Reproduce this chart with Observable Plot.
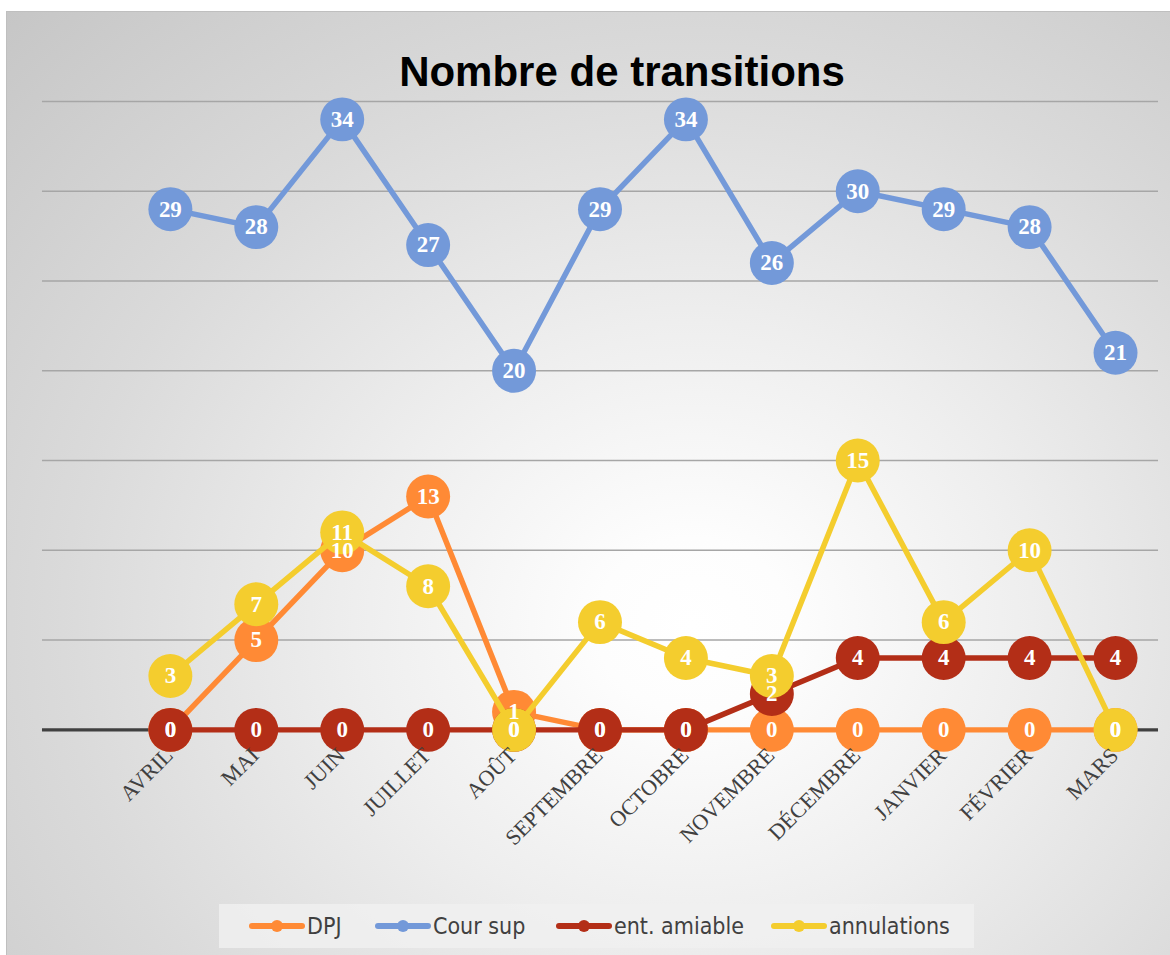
<!DOCTYPE html>
<html>
<head>
<meta charset="utf-8">
<script src="https://cdn.jsdelivr.net/npm/d3@7"></script>
<script src="https://cdn.jsdelivr.net/npm/@observablehq/plot@0.6"></script>
<style>
  html, body { margin: 0; padding: 0; background: #ffffff; }
  #chart {
    position: absolute; left: 6px; top: 11px; width: 1164px; height: 944px;
    box-sizing: border-box; border-left: 1px solid #bfbfbf; border-top: 1px solid #bfbfbf;
    background: radial-gradient(ellipse farthest-corner at 59% 65%, #ffffff 0%, #fdfdfd 10%, #eeeeee 35%, #dadada 65%, #c6c6c6 100%);
    overflow: hidden;
  }
  #title {
    position: absolute; top: 39px; left: 615px; transform: translateX(-50%);
    font-family: "Liberation Sans", Arial, sans-serif; font-weight: bold; font-size: 42px;
    line-height: 42px; color: #000; white-space: nowrap;
  }
  #plot { position: absolute; left: 0; top: 0; }
  #legend {
    position: absolute; left: 212px; top: 892px; width: 755px; height: 44px;
    background: rgba(240,240,240,0.85);
  }
  .lg-sym { position: absolute; top: 16px; }
  .lg-txt {
    position: absolute; top: 0; line-height: 44px; height: 44px;
    font-family: "DejaVu Sans Condensed", "Liberation Sans Narrow", sans-serif; font-stretch: condensed; font-size: 23px;
    color: #404040; white-space: nowrap;
  }
</style>
</head>
<body>
<div id="chart">
  <div id="plot"></div>
  <div id="title">Nombre de transitions</div>
  <div id="legend"></div>
</div>
<script>
const months = ["AVRIL","MAI","JUIN","JUILLET","AOÛT","SEPTEMBRE","OCTOBRE","NOVEMBRE","DÉCEMBRE","JANVIER","FÉVRIER","MARS"];
const dpj = [0,5,10,13,1,0,0,0,0,0,0,0];
const courSup = [29,28,34,27,20,29,34,26,30,29,28,21];
const entAmiable = [0,0,0,0,0,0,0,2,4,4,4,4];
const annulations = [3,7,11,8,0,6,4,3,15,6,10,0];
const seriesNames = ["DPJ","Cour sup","ent. amiable","annulations"];
const seriesColors = ["#FF8A35","#7399D9","#B32E17","#F4CD2E"];
const gridTicks = [5,10,15,20,25,30,35];

const seriesValues = [dpj, courSup, entAmiable, annulations];
const seriesRows = seriesValues.map((vals, s) =>
  vals.map((v, i) => ({month: months[i], value: v, series: seriesNames[s]})));
const allRows = seriesRows.flat();

const marks = [
  Plot.ruleY(gridTicks, {stroke: "#a6a6a6", strokeWidth: 1.5}),
  Plot.ruleY([0], {stroke: "#404040", strokeWidth: 3.5})
];
seriesRows.forEach((rows, s) => {
  marks.push(Plot.line(rows, {x: "month", y: "value", stroke: seriesColors[s], strokeWidth: 5.5}));
  marks.push(Plot.dot(rows, {x: "month", y: "value", r: 22, fill: seriesColors[s], stroke: null}));
});
marks.push(Plot.text(allRows, {
  x: "month", y: "value", text: d => String(d.value), fill: "white",
  fontWeight: "bold", fontSize: 23, fontFamily: "Liberation Serif, serif"
}));
marks.push(Plot.text(months, {
  x: d => d, y: () => 0, text: d => d, rotate: -45, textAnchor: "end", lineAnchor: "middle",
  dx: -1, dy: 22, fontSize: 22, fontFamily: "Liberation Serif, serif", fill: "#404040"
}));

const chart = Plot.plot({
  width: 1164, height: 880,
  marginTop: 89, marginBottom: 162, marginLeft: 35, marginRight: 12,
  x: {type: "point", domain: months, range: [163, 1109], padding: 0, axis: null},
  y: {domain: [0, 35], axis: null},
  style: {background: "transparent", overflow: "visible"},
  marks
});
document.getElementById("plot").appendChild(chart);

// legend
const legend = document.getElementById("legend");
const symLeft = [30, 156, 337, 552];
seriesNames.forEach((name, i) => {
  const ns = "http://www.w3.org/2000/svg";
  const svg = document.createElementNS(ns, "svg");
  svg.setAttribute("width", 56); svg.setAttribute("height", 12);
  svg.setAttribute("class", "lg-sym");
  svg.style.left = symLeft[i] + "px";
  const line = document.createElementNS(ns, "line");
  line.setAttribute("x1", 3); line.setAttribute("x2", 53); line.setAttribute("y1", 6); line.setAttribute("y2", 6);
  line.setAttribute("stroke", seriesColors[i]); line.setAttribute("stroke-width", 6);
  line.setAttribute("stroke-linecap", "round");
  const c = document.createElementNS(ns, "circle");
  c.setAttribute("cx", 28); c.setAttribute("cy", 6); c.setAttribute("r", 6);
  c.setAttribute("fill", seriesColors[i]);
  svg.appendChild(line); svg.appendChild(c);
  legend.appendChild(svg);
  const t = document.createElement("div");
  t.className = "lg-txt"; t.textContent = name;
  t.style.left = (symLeft[i] + 58) + "px";
  legend.appendChild(t);
});
</script>
</body>
</html>
